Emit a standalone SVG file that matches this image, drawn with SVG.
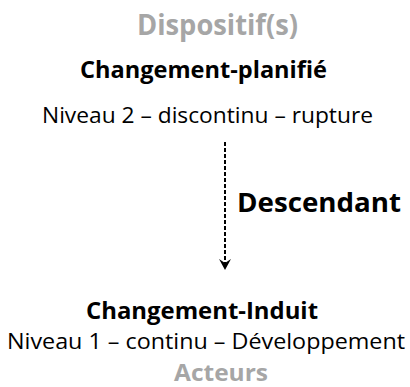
<svg xmlns="http://www.w3.org/2000/svg" width="410" height="387" viewBox="0 0 410 387">
<style>
text{font-family:"Open Sans","Liberation Sans",sans-serif;text-anchor:start}
.grey{font-weight:bold;fill:#a6a6a6}
.title{font-weight:bold;font-size:24px;fill:#000}
.sub{font-size:22px;fill:#000}
.lbl{font-weight:bold;font-size:27px;fill:#000}
.conn{stroke:#000;stroke-width:2;stroke-dasharray:4 2;fill:none}
</style>
<g id="top">
<text class="grey" x="137" y="35" font-size="28" textLength="161" lengthAdjust="spacingAndGlyphs">Dispositif(s)</text>
<text class="title" x="80" y="78" textLength="247" lengthAdjust="spacingAndGlyphs">Changement-planifié</text>
<text class="sub" x="42" y="123" textLength="331" lengthAdjust="spacingAndGlyphs">Niveau 2 – discontinu – rupture</text>
</g>
<g id="bottom">
<text class="title" x="86" y="319" textLength="232" lengthAdjust="spacingAndGlyphs">Changement-Induit</text>
<text class="sub" x="7" y="349" textLength="398" lengthAdjust="spacingAndGlyphs">Niveau 1 – continu – Développement</text>
<text class="grey" x="174" y="381" font-size="23" textLength="94" lengthAdjust="spacingAndGlyphs">Acteurs</text>
</g>
<g id="connectors">
<line class="conn" x1="225" y1="142" x2="225" y2="266"/>
<path d="M219,259 L225,270 L231,259 L225,263 Z" fill="#000"/>
<text class="lbl" x="237" y="212" textLength="164" lengthAdjust="spacingAndGlyphs">Descendant</text>
</g>
</svg>
